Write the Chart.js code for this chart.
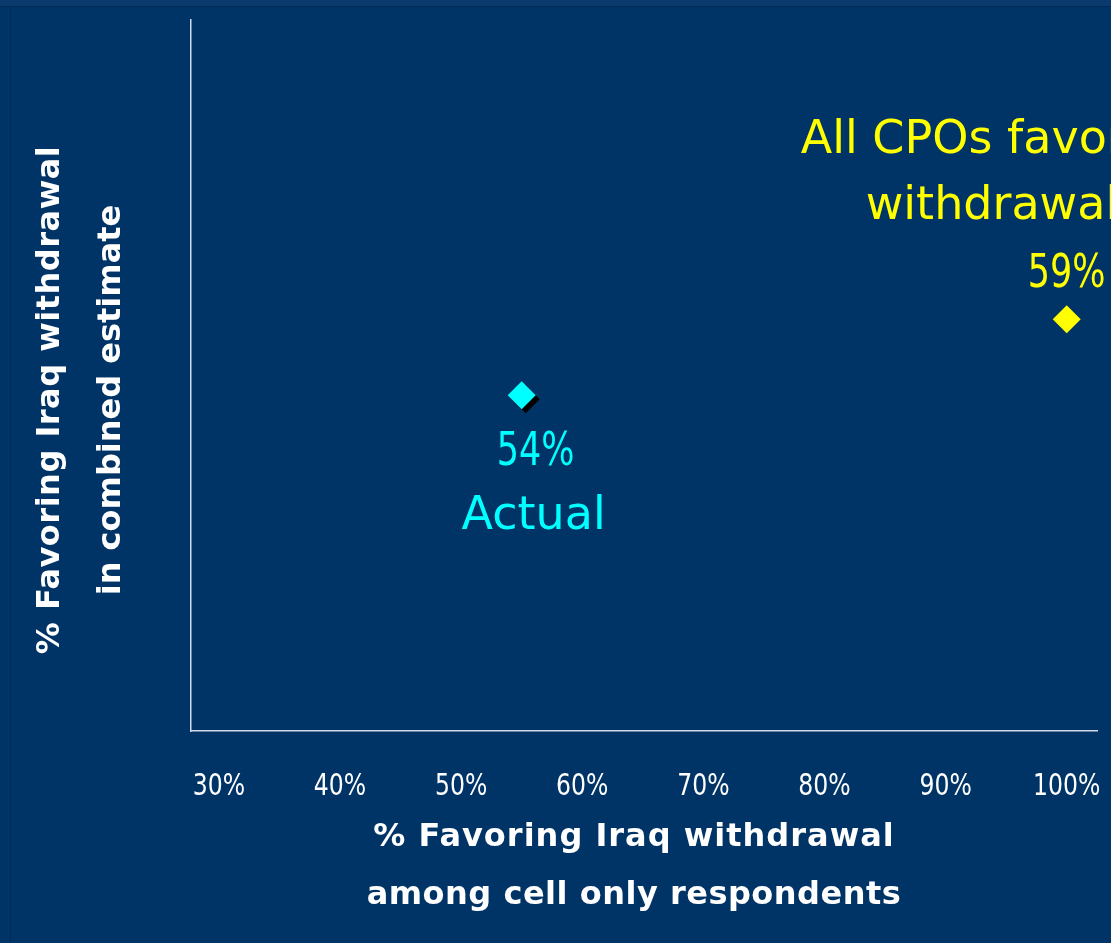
<!DOCTYPE html>
<html>
<head>
<meta charset="utf-8">
<title>Iraq withdrawal: combined estimate vs. cell only respondents</title>
<script src="https://cdn.jsdelivr.net/npm/chart.js@4.4.1/dist/chart.umd.min.js"></script>
<style>
  html, body { margin: 0; padding: 0; background: #003366; }
  #wrap { width: 1111px; height: 943px; position: relative; }
</style>
</head>
<body>
<div id="wrap"><canvas id="chart"></canvas></div>
<script>
// Scenario labels
const seriesNames = ['Actual', 'All CPOs favor withdrawal'];
// % favoring Iraq withdrawal among cell only respondents (x)
const cellOnlyPct = [55, 100];
// % favoring Iraq withdrawal in the combined estimate (y)
const combinedPct = [54, 59];
// x-axis tick values
const xTickValues = [30, 40, 50, 60, 70, 80, 90, 100];
// axis titles
const xTitleLines = ['% Favoring Iraq withdrawal', 'among cell only respondents'];
const yTitleLines = ['% Favoring Iraq withdrawal', 'in combined estimate'];

const BG = '#003366';
const AXIS = '#d4dbe8';
const CYAN = '#00ffff';
const YELLOW = '#ffff00';
const FONT = '"DejaVu Sans", Verdana, sans-serif';

function drawText(ctx, text, x, y, font, color, opts = {}) {
  ctx.save();
  ctx.font = font;
  ctx.fillStyle = color;
  ctx.textBaseline = 'alphabetic';
  ctx.textAlign = opts.align || 'center';
  if (opts.spacing) ctx.letterSpacing = opts.spacing;
  ctx.translate(x, y);
  if (opts.rotate) ctx.rotate(opts.rotate);
  ctx.scale(opts.sx || 1, 1);
  ctx.fillText(text, 0, 0);
  ctx.restore();
}

// Slide background with its thin darker frame line
const backdrop = {
  id: 'backdrop',
  beforeDraw(chart) {
    const { ctx, width, height } = chart;
    ctx.save();
    ctx.fillStyle = BG;
    ctx.fillRect(0, 0, width, height);
    ctx.fillStyle = '#0a3a6e';
    ctx.fillRect(0, 0, width, 6);
    ctx.fillStyle = '#002a56';
    ctx.fillRect(0, 6, width, 1);
    ctx.fillRect(10, 6, 1, height - 6);
    ctx.restore();
  }
};

// Drop shadow behind the "Actual" marker only
const markerShadow = {
  id: 'markerShadow',
  beforeDatasetDraw(chart, args) {
    if (args.index !== 0) return;
    const ctx = chart.ctx;
    ctx.save();
    ctx.shadowColor = '#000000';
    ctx.shadowOffsetX = 4;
    ctx.shadowOffsetY = 4;
    ctx.shadowBlur = 0;
  },
  afterDatasetDraw(chart, args) {
    if (args.index !== 0) return;
    chart.ctx.restore();
  }
};

// Tick labels, axis titles and point annotations
const labels = {
  id: 'labels',
  afterDraw(chart) {
    const ctx = chart.ctx;
    const xs = chart.scales.x;
    const area = chart.chartArea;

    // x tick labels (condensed figures)
    xs.ticks.forEach(t => {
      drawText(ctx, t.value + '%', xs.getPixelForValue(t.value), area.bottom + 64,
        '31px ' + FONT, '#ffffff', { sx: 0.76 });
    });

    // x-axis title
    const titleFont = 'bold 32px ' + FONT;
    const cx = 634;
    drawText(ctx, xTitleLines[0], cx, area.bottom + 115, titleFont, '#ffffff', { spacing: '1px' });
    drawText(ctx, xTitleLines[1], cx, area.bottom + 173, titleFont, '#ffffff', { spacing: '0.5px' });

    // y-axis title (rotated)
    const cy = 400;
    drawText(ctx, yTitleLines[0], 59, cy, titleFont, '#ffffff', { rotate: -Math.PI / 2, spacing: '0.5px' });
    drawText(ctx, yTitleLines[1], 120, cy, titleFont, '#ffffff', { rotate: -Math.PI / 2 });

    const noteFont = '46px ' + FONT;

    // "Actual" annotation
    const pA = chart.getDatasetMeta(0).data[0];
    drawText(ctx, combinedPct[0] + '%', pA.x + 14, pA.y + 70, noteFont, CYAN, { sx: 0.76 });
    drawText(ctx, seriesNames[0], pA.x + 12, pA.y + 134, noteFont, CYAN);

    // "All CPOs favor withdrawal" annotation
    const pB = chart.getDatasetMeta(1).data[0];
    drawText(ctx, 'All CPOs favor', pB.x - 266, pB.y - 166, noteFont, YELLOW, { align: 'left' });
    drawText(ctx, 'withdrawal', pB.x - 201, pB.y - 100, noteFont, YELLOW, { align: 'left' });
    drawText(ctx, combinedPct[1] + '%', pB.x, pB.y - 32, noteFont, YELLOW, { sx: 0.76 });
  }
};

const pointColors = [CYAN, YELLOW];
const datasets = seriesNames.map((name, i) => ({
  label: name,
  data: [{ x: cellOnlyPct[i], y: combinedPct[i] }],
  pointStyle: 'rectRot',
  pointRadius: 14,
  pointHoverRadius: 14,
  backgroundColor: pointColors[i],
  borderColor: pointColors[i],
  borderWidth: 0,
  showLine: false
}));

new Chart(document.getElementById('chart'), {
  type: 'scatter',
  data: { datasets },
  options: {
    responsive: true,
    maintainAspectRatio: false,
    animation: false,
    layout: { padding: { left: 191, right: 12, top: 20, bottom: 0 } },
    plugins: {
      legend: { display: false },
      title: { display: false },
      tooltip: { enabled: false }
    },
    scales: {
      x: {
        type: 'linear',
        min: 27.7,
        max: 102.5,
        afterBuildTicks(scale) { scale.ticks = xTickValues.map(v => ({ value: v })); },
        afterFit(scale) { scale.height = 212; },
        ticks: { display: false },
        grid: { display: false, drawTicks: false },
        border: { display: true, color: AXIS, width: 1.5 }
      },
      y: {
        type: 'linear',
        min: 31.9,
        max: 78.7,
        afterFit(scale) { scale.width = 0; },
        ticks: { display: false },
        grid: { display: false, drawTicks: false },
        border: { display: true, color: AXIS, width: 1.5 }
      }
    }
  },
  plugins: [backdrop, markerShadow, labels]
});
</script>
</body>
</html>
